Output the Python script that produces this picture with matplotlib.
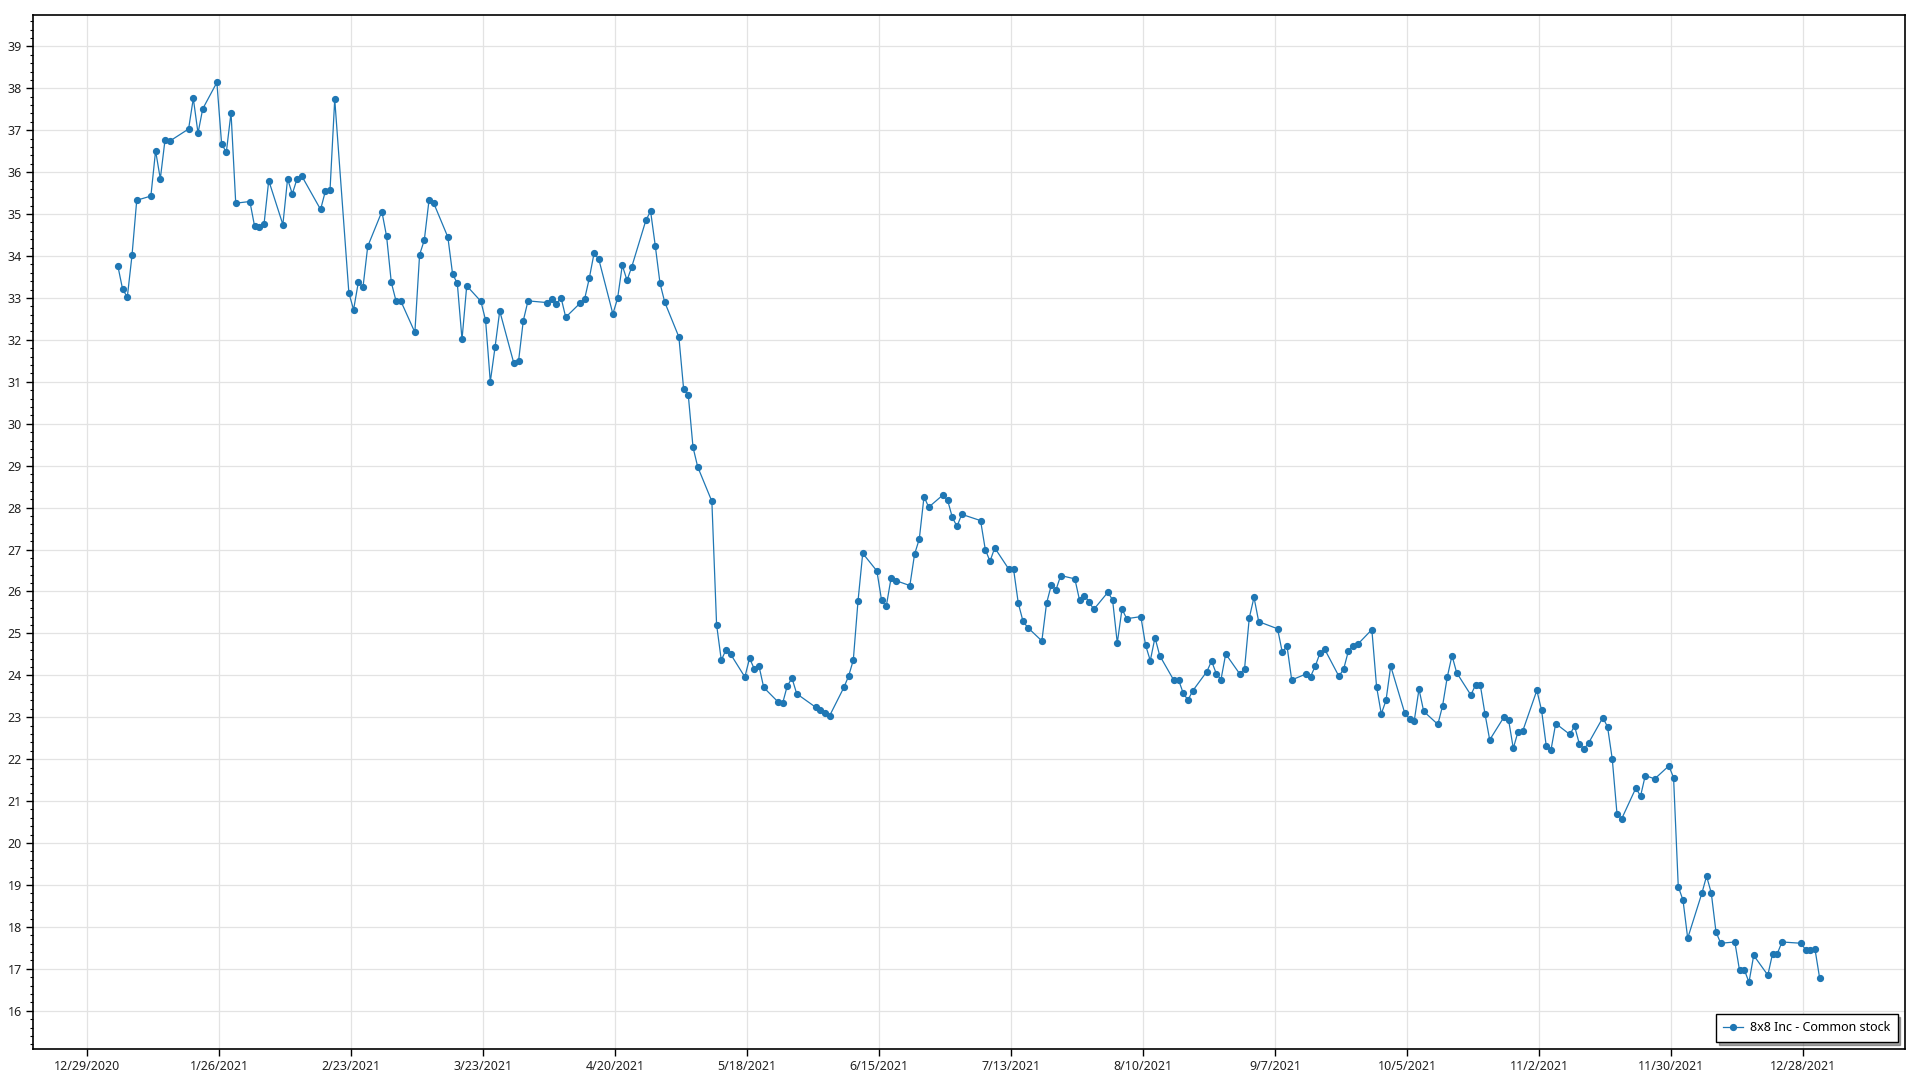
import numpy as np
import pandas as pd
import matplotlib
matplotlib.use("Agg")
import matplotlib.pyplot as plt
import matplotlib.dates as mdates
from matplotlib.ticker import MultipleLocator, FuncFormatter

plt.rcParams['font.family'] = ['Noto Sans', 'DejaVu Sans']

# NYSE holidays of 2021 that fall on weekdays
holidays = ['2021-01-18', '2021-02-15', '2021-04-02', '2021-05-31',
            '2021-07-05', '2021-09-06', '2021-11-25', '2021-12-24']

# closing prices, month by month
jan = [33.76, 33.21, 33.02, 34.02, 35.33, 35.43, 36.51, 35.84, 36.77, 36.74,
       37.03, 37.76, 36.93, 37.51, 38.14, 36.68, 36.47, 37.42, 35.26]
feb = [35.30, 34.71, 34.69, 34.76, 35.80, 34.75, 35.84, 35.48, 35.84, 35.91,
       35.11, 35.54, 35.57, 37.74, 33.12, 32.72, 33.37, 33.26, 34.23]
mar = [35.06, 34.47, 33.37, 32.93, 32.93, 32.18, 34.03, 34.38, 35.33, 35.26,
       34.45, 33.57, 33.35, 32.01, 33.29, 32.92, 32.47, 31.00, 31.82, 32.69,
       31.44, 31.50, 32.46]
apr = [32.93, 32.89, 32.97, 32.85, 33.01, 32.54, 32.87, 32.97, 33.47, 34.06,
       33.93, 32.62, 32.99, 33.78, 33.42, 33.74, 34.85, 35.07, 34.24, 33.35,
       32.90]
may = [32.07, 30.84, 30.68, 29.44, 28.97, 28.15, 25.21, 24.36, 24.61, 24.50,
       23.96, 24.41, 24.15, 24.22, 23.71, 23.37, 23.33, 23.75, 23.93, 23.56]
jun = [23.24, 23.17, 23.11, 23.04, 23.71, 23.98, 24.36, 25.77, 26.91, 26.49,
       25.79, 25.65, 26.31, 26.26, 26.14, 26.89, 27.25, 28.26, 28.01, 28.30,
       28.18, 27.77]
jul = [27.55, 27.84, 27.69, 27.00, 26.72, 27.04, 26.53, 26.53, 25.72, 25.29,
       25.14, 24.82, 25.72, 26.15, 26.04, 26.38, 26.30, 25.79, 25.90, 25.76,
       25.57]
aug = [25.98, 25.80, 24.77, 25.58, 25.35, 25.40, 24.72, 24.35, 24.90, 24.47,
       23.88, 23.89, 23.57, 23.41, 23.63, 24.09, 24.34, 24.04, 23.90, 24.51,
       24.03, 24.16]
sep = [25.37, 25.86, 25.28, 25.11, 24.55, 24.70, 23.89, 24.03, 23.97, 24.22,
       24.53, 24.62, 23.98, 24.14, 24.57, 24.70, 24.74, 25.09, 23.73, 23.08,
       23.40]
oct_ = [24.22, 23.09, 22.96, 22.92, 23.67, 23.14, 22.83, 23.27, 23.96, 24.47,
        24.06, 23.53, 23.77, 23.77, 23.08, 22.46, 23.00, 22.94, 22.26, 22.65,
        22.67]
nov = [23.64, 23.17, 22.31, 22.22, 22.85, 22.59, 22.79, 22.37, 22.24, 22.39,
       22.99, 22.77, 22.00, 20.70, 20.58, 21.31, 21.12, 21.61, 21.53, 21.84,
       21.56]
dec = [18.96, 18.64, 17.73, 18.80, 19.21, 18.81, 17.88, 17.61, 17.64, 16.96,
       16.98, 16.68, 17.32, 16.85, 17.36, 17.36, 17.64, 17.61, 17.46, 17.46,
       17.47, 16.77]

prices = jan + feb + mar + apr + may + jun + jul + aug + sep + oct_ + nov + dec

days = pd.bdate_range('2021-01-04', '2021-12-31')
days = days[~days.isin(pd.to_datetime(holidays))]
# points sit at midday of each trading day
dates = (days + pd.Timedelta(hours=12)).to_pydatetime()

tick_dates = pd.date_range('2020-12-29', periods=14, freq='28D').to_pydatetime()

fig = plt.figure(figsize=(19.2, 10.8), dpi=100)
ax = fig.add_axes([0.0172, 0.0284, 0.975, 0.9574])

ax.plot(dates, prices, color='#1f77b4', linewidth=0.9, marker='o',
        markersize=4.2, label='8x8 Inc - Common stock', zorder=3)

x0 = pd.Timestamp('2020-12-29')
ax.set_xlim(mdates.date2num(x0 - pd.Timedelta(days=11.5)),
            mdates.date2num(x0 + pd.Timedelta(days=385.6)))
ax.set_ylim(15.08, 39.74)

ax.xaxis.set_major_locator(matplotlib.ticker.FixedLocator(mdates.date2num(tick_dates)))
ax.xaxis.set_major_formatter(FuncFormatter(
    lambda v, p: (lambda d: f"{d.month}/{d.day}/{d.year}")(mdates.num2date(v))))
ax.yaxis.set_major_locator(MultipleLocator(1))
ax.yaxis.set_minor_locator(MultipleLocator(0.2))

ax.grid(True, which='major', color='#e3e3e3', linewidth=0.9)
ax.set_axisbelow(True)
for s in ax.spines.values():
    s.set_color('black')
    s.set_linewidth(1.2)

ax.tick_params(axis='both', which='major', labelsize=9, length=5, width=1,
               color='black', labelcolor='#222222', pad=3)
ax.tick_params(axis='y', which='minor', length=2.5, width=0.8, color='black')

leg = ax.legend(loc='lower right', fontsize=9, frameon=True, fancybox=False,
                shadow=True, edgecolor='black', borderpad=0.6,
                handlelength=1.6, handletextpad=0.5, borderaxespad=0.6)
leg.get_frame().set_linewidth(1)

fig.savefig('out.png', dpi=100)
